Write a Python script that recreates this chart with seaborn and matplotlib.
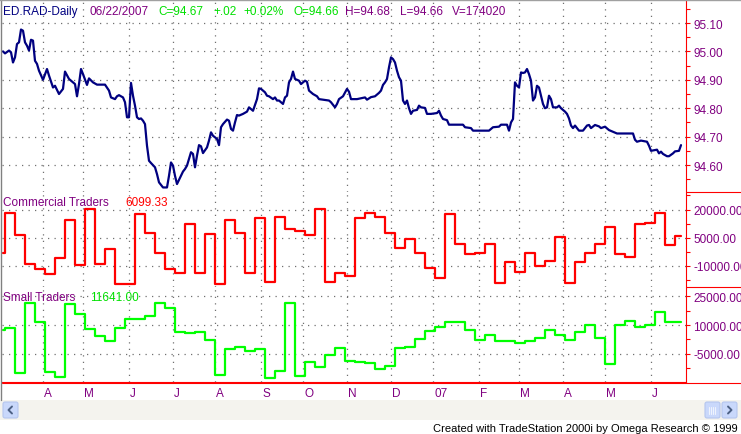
import numpy as np
import pandas as pd
import matplotlib
matplotlib.use('Agg')
import matplotlib.pyplot as plt
import seaborn as sns
from matplotlib.patches import Rectangle, FancyBboxPatch
from matplotlib.transforms import ScaledTranslation

# ED.RAD daily close (trading-day number, 0 = 2006-03-06)
price_day = [0, 1, 3, 4, 5, 6, 7, 8, 9, 10, 11, 12, 13, 14, 15, 16, 17, 18, 20, 22,
             23, 25, 26, 28, 30, 31, 33, 34, 36, 37, 38, 39, 40, 42, 43, 45, 47, 51, 53, 54,
             56, 57, 58, 60, 61, 62, 63, 64, 65, 66, 67, 68, 69, 70, 71, 72, 73, 74, 76, 77,
             78, 80, 82, 83, 84, 85, 86, 87, 89, 90, 91, 92, 94, 95, 96, 97, 98, 99, 100, 102,
             103, 104, 105, 107, 108, 109, 110, 112, 113, 114, 115, 116, 117, 118, 120, 122, 123, 125, 126, 127,
             128, 129, 131, 132, 133, 135, 136, 137, 138, 140, 141, 142, 143, 144, 145, 146, 148, 149, 151, 152,
             153, 155, 157, 158, 160, 163, 164, 166, 167, 168, 170, 172, 173, 174, 177, 179, 181, 182, 184, 186,
             188, 189, 190, 191, 192, 193, 194, 195, 196, 197, 198, 199, 200, 201, 202, 203, 204, 205, 207, 208,
             209, 211, 212, 214, 217, 218, 219, 220, 222, 223, 227, 230, 231, 234, 235, 238, 243, 245, 248, 249,
             252, 253, 254, 255, 256, 257, 258, 259, 260, 261, 262, 263, 264, 265, 266, 267, 268, 269, 270, 271,
             272, 273, 274, 275, 277, 278, 279, 281, 282, 283, 284, 285, 286, 288, 290, 292, 293, 294, 296, 298,
             299, 301, 303, 307, 311, 315, 316, 317, 319, 322, 323, 324, 327, 328, 329, 330, 332, 333, 335, 336,
             338, 339]
price = [95.000, 94.993, 95.003, 94.997, 94.961, 94.979, 95.026, 95.032, 95.077, 95.073,
         95.032, 95.020, 95.003, 95.041, 95.038, 94.967, 94.956, 94.932, 94.900, 94.938,
         94.915, 94.873, 94.879, 94.850, 94.868, 94.929, 94.903, 94.897, 94.885, 94.842,
         94.885, 94.938, 94.920, 94.882, 94.905, 94.891, 94.883, 94.883, 94.862, 94.838,
         94.832, 94.842, 94.846, 94.838, 94.821, 94.768, 94.768, 94.889, 94.844, 94.809,
         94.768, 94.762, 94.764, 94.756, 94.744, 94.668, 94.615, 94.607, 94.592, 94.568,
         94.539, 94.521, 94.521, 94.562, 94.609, 94.598, 94.562, 94.533, 94.562, 94.577,
         94.586, 94.598, 94.645, 94.639, 94.592, 94.633, 94.670, 94.666, 94.642, 94.662,
         94.686, 94.715, 94.703, 94.692, 94.670, 94.733, 94.744, 94.760, 94.756, 94.727,
         94.721, 94.750, 94.776, 94.774, 94.780, 94.788, 94.803, 94.791, 94.811, 94.832,
         94.870, 94.868, 94.856, 94.844, 94.842, 94.832, 94.838, 94.827, 94.827, 94.815,
         94.838, 94.844, 94.891, 94.903, 94.929, 94.903, 94.897, 94.885, 94.897, 94.893,
         94.862, 94.850, 94.842, 94.832, 94.830, 94.827, 94.821, 94.803, 94.815, 94.832,
         94.842, 94.868, 94.858, 94.832, 94.832, 94.835, 94.838, 94.830, 94.839, 94.842,
         94.854, 94.862, 94.882, 94.891, 94.903, 94.944, 94.979, 94.973, 94.961, 94.932,
         94.909, 94.897, 94.827, 94.815, 94.827, 94.800, 94.780, 94.791, 94.794, 94.809,
         94.803, 94.801, 94.780, 94.780, 94.783, 94.791, 94.774, 94.762, 94.758, 94.742,
         94.742, 94.742, 94.733, 94.730, 94.721, 94.721, 94.721, 94.733, 94.735, 94.742,
         94.742, 94.721, 94.750, 94.762, 94.891, 94.879, 94.873, 94.926, 94.924, 94.926,
         94.938, 94.920, 94.897, 94.827, 94.838, 94.879, 94.873, 94.844, 94.815, 94.800,
         94.803, 94.844, 94.832, 94.803, 94.803, 94.809, 94.800, 94.788, 94.780, 94.764,
         94.739, 94.730, 94.739, 94.721, 94.721, 94.739, 94.741, 94.730, 94.741, 94.736,
         94.730, 94.735, 94.723, 94.711, 94.711, 94.711, 94.689, 94.682, 94.686, 94.682,
         94.668, 94.650, 94.654, 94.641, 94.647, 94.639, 94.631, 94.631, 94.641, 94.648,
         94.650, 94.670]

# weekly COT net positions (one value per week, new week on Tuesday)
commercial_start = -2950
commercial = [17880, 6410, -9120, -11770, -14065, -5945, 14175, -9650, 20350, -9120,
              -1180, -19800, -19800, 17350, 7640, -2945, -11770, -13530, 12410, -13530,
              7120, -19380, 14350, 7640, -13530, 15590, -18830, 16120, 9760, 8520,
              6410, 20350, -18475, -13530, -15300, 15590, 17880, 16120, 7640, -300,
              4470, -2945, -10890, -16180, 17700, 1470, -3830, -2945, 1470, -19360,
              -7710, -13000, -3300, -10000, -7360, 5350, -19180, -7890, -3300, 1470,
              10640, -3830, -5065, 12060, 12940, 17880, 1120, 6099.33]
small_start = 7490
small = [8354, -15050, 21360, 11820, -14500, -17100, 21000, 15800, 8000, 4540,
         1590, 8354, 13200, 13200, 14900, 21360, 18760, 6270, 5750, 6270,
         2290, -15750, -2400, -1530, -3260, -2400, -17480, -13670, 21360, -16270,
         -8990, -11930, -5520, -1880, -8470, -9330, -9850, -12800, -11070, -1880,
         -1180, 2800, 7140, 8870, 11470, 11470, 7660, 2290, 5060, 1590,
         1590, 720, 1590, 3330, 7660, 5060, 2460, 6270, 10260, 3160,
         -10200, 10260, 12340, 9220, 10090, 16680, 11470, 11641.00]

month_labels = ['A', 'M', 'J', 'J', 'A', 'S', 'O', 'N', 'D', '07', 'F', 'M', 'A', 'M', 'J']
price_ticks = [94.60, 94.70, 94.80, 94.90, 95.00, 95.10]
commercial_ticks = [-10000, 5000, 20000]
small_ticks = [-5000, 10000, 25000]

PURPLE = '#800080'
NAVY = '#000080'
RED = '#ff0000'
GREEN = '#00ff00'
GRID = '#707070'

sns.set_style('white')
plt.rcParams['font.family'] = ['Liberation Sans', 'DejaVu Sans']
FS = 8.5

days = pd.bdate_range('2006-03-06', '2007-06-22')
week_start = pd.date_range('2006-03-07', periods=len(commercial), freq='W-TUE')
week_x = days.get_indexer(week_start)
step_x = np.r_[0, week_x, len(days) - 1]
comm_y = [commercial_start] + commercial + [commercial[-1]]
small_y = [small_start] + small + [small[-1]]

months = days.month
month_x = [i for i in range(1, len(days)) if months[i] != months[i - 1]]
monday_x = np.flatnonzero(days.dayofweek == 0)

W, H = 741, 435
fig = plt.figure(figsize=(W / 100, H / 100), dpi=100)
fig.patch.set_facecolor('white')


def px_rect(x0, y0, x1, y1):
    return [x0 / W, 1 - y1 / H, (x1 - x0) / W, (y1 - y0) / H]


ax1 = fig.add_axes(px_rect(2, 1, 686, 193))
ax2 = fig.add_axes(px_rect(2, 193, 686, 288))
ax3 = fig.add_axes(px_rect(2, 288, 686, 383))

sns.lineplot(x=price_day, y=price, ax=ax1, color=NAVY, linewidth=1.6, estimator=None, zorder=3)
sns.lineplot(x=step_x, y=comm_y, ax=ax2, color=RED, linewidth=1.6, estimator=None,
             drawstyle='steps-post', zorder=3)
sns.lineplot(x=step_x, y=small_y, ax=ax3, color=GREEN, linewidth=1.6, estimator=None,
             drawstyle='steps-post', zorder=3)

ax1.set_ylim(94.505, 95.181)
ax2.set_ylim(-21230, 29310)
ax3.set_ylim(-19650, 29845)

for ax, ticks, step in [(ax1, price_ticks, 0.05), (ax2, commercial_ticks, 7500),
                        (ax3, small_ticks, 7500)]:
    ax.set_xlim(-0.5, 341.5)
    ax.set_xlabel('')
    ax.set_ylabel('')
    ax.set_facecolor('white')
    ax.yaxis.tick_right()
    ax.set_yticks(ticks)
    lo, hi = ax.get_ylim()
    minor = np.arange(ticks[0] - 10 * step, ticks[-1] + 10 * step, step)
    ax.set_yticks([m for m in minor if lo < m < hi], minor=True)
    ax.set_yticklabels(['%.2f' % t for t in ticks])
    ax.tick_params(axis='y', which='both', colors=RED, labelcolor=PURPLE, direction='out',
                   length=3, width=0.8, pad=2.2, labelsize=FS)
    ax.set_xticks(month_x)
    # dotted grid, TradeStation style
    for t in ticks:
        ax.axhline(t, color=GRID, lw=0.9, dashes=(1, 4.2), zorder=1)
    for mx in month_x:
        ax.axvline(mx, color=GRID, lw=0.9, dashes=(1, 4.2), zorder=1)
    for side in ['left', 'top', 'bottom']:
        ax.spines[side].set_visible(False)
    ax.spines['right'].set_color(RED)
    ax.spines['right'].set_linewidth(0.8)

for ax in [ax1, ax2]:
    ax.tick_params(axis='x', which='both', length=0, labelbottom=False)

ax3.spines['bottom'].set_visible(True)
ax3.spines['bottom'].set_color(RED)
ax3.spines['bottom'].set_linewidth(0.8)
ax3.set_xticks(monday_x, minor=True)
ax3.set_xticklabels(month_labels, ha='left')
ax3.tick_params(axis='x', which='major', colors=RED, labelcolor=PURPLE, direction='out',
                length=3.2, width=0.8, pad=0.4, labelsize=FS)
ax3.tick_params(axis='x', which='minor', colors=RED, direction='out', length=1.6, width=0.8)
shift = ScaledTranslation(1.2 / 100, 0, fig.dpi_scale_trans)
for lab in ax3.get_xticklabels():
    lab.set_transform(lab.get_transform() + shift)

# decoration layer in pixel coordinates
deco = fig.add_axes([0, 0, 1, 1], zorder=10)
deco.set_xlim(0, W)
deco.set_ylim(H, 0)
deco.axis('off')

for y in [193, 288]:
    deco.plot([686, W], [y, y], color=RED, lw=0.8)
deco.plot([2, W], [383.5, 383.5], color=RED, lw=0.8)
deco.plot([0.5, 0.5], [0, 401], color='#808080', lw=1)
deco.plot([0, W], [0.5, 0.5], color='#a0a0a0', lw=1)

# scroll bar and footer
deco.add_patch(Rectangle((0, 401), W, 20, facecolor='#f4f3ee', edgecolor='none'))
deco.add_patch(Rectangle((0, 421), W, H - 421, facecolor='#ffffff', edgecolor='none'))
for bx in [3, 722]:
    deco.add_patch(FancyBboxPatch((bx, 403), 15, 16, boxstyle='round,pad=0,rounding_size=2',
                                  facecolor='#c9d8fb', edgecolor='#b4c6ee', lw=0.8))
deco.plot([12, 8.5, 12], [407.5, 411, 414.5], color='#4d6185', lw=1.4)
deco.plot([728, 731.5, 728], [407.5, 411, 414.5], color='#4d6185', lw=1.4)
deco.add_patch(FancyBboxPatch((705, 403), 15, 16, boxstyle='round,pad=0,rounding_size=2',
                              facecolor='#c9d8fb', edgecolor='#b4c6ee', lw=0.8))
for gx in [709, 711, 713, 715]:
    deco.plot([gx, gx], [407.5, 414.5], color='#eef3fd', lw=0.8)
deco.text(738, 432, 'Created with TradeStation 2000i by Omega Research \u00a9 1999',
          ha='right', va='baseline', fontsize=8, color='black')

# chart headers
hdr = [('ED.RAD-Daily', 3, NAVY), ('06/22/2007', 89, PURPLE),
       ('C=%.2f' % price[-1], 158, '#00e000'), ('+.02', 213, '#00e000'),
       ('+0.02%', 243, '#00e000'), ('O=94.66', 293, '#00e000'),
       ('H=94.68', 345, PURPLE), ('L=94.66', 400, PURPLE), ('V=174020', 452, PURPLE)]
for s, x, c in hdr:
    deco.text(x, 15, s, color=c, fontsize=FS, va='baseline', ha='left')
deco.text(3, 206, 'Commercial Traders', color=PURPLE, fontsize=FS, va='baseline')
deco.text(125, 206, '%.2f' % commercial[-1], color=RED, fontsize=FS, va='baseline')
deco.text(3, 301, 'Small Traders', color=PURPLE, fontsize=FS, va='baseline')
deco.text(90, 301, '%.2f' % small[-1], color='#00e000', fontsize=FS, va='baseline')

fig.savefig('out.png', dpi=100)
